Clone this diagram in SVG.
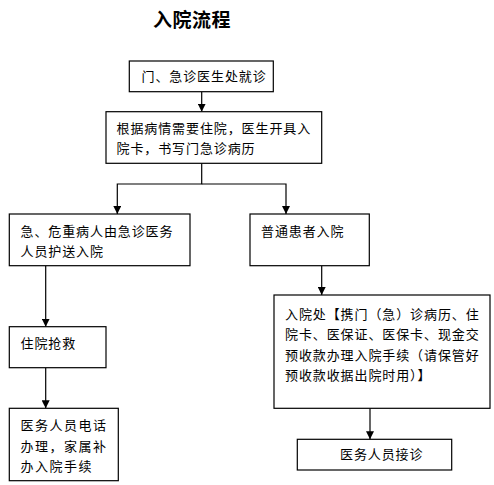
<svg xmlns="http://www.w3.org/2000/svg" width="494" height="485" viewBox="0 0 494 485">
<style>
.box{fill:#fff;stroke:#000;stroke-width:1.2}
.t{font-family:"Liberation Sans","Noto Sans CJK SC",sans-serif;font-size:13px;fill:#000;letter-spacing:0.9px}
.title{font-family:"Liberation Sans","Noto Sans CJK SC",sans-serif;font-size:19px;font-weight:bold;fill:#000;letter-spacing:0.5px}
.c{fill:none;stroke:#000;stroke-width:1.2}
</style>
<defs>
<marker id="ah" viewBox="0 0 10 10" refX="10" refY="5" markerWidth="8" markerHeight="8" markerUnits="userSpaceOnUse" orient="auto">
<path d="M0,0 L10,5 L0,10 Z" fill="#000"/>
</marker>
</defs>
<rect width="494" height="485" fill="#fff"/>
<text class="title" x="192" y="27" text-anchor="middle">入院流程</text>
<g id="connectors">
<path class="c" d="M201.7,92 V111.7" marker-end="url(#ah)"/>
<path class="c" d="M201.7,163.3 V184 H117.3 V214" marker-end="url(#ah)"/>
<path class="c" d="M201.7,184 H286 V214" marker-end="url(#ah)"/>
<path class="c" d="M45.7,265.7 V326.7" marker-end="url(#ah)"/>
<path class="c" d="M45.7,367.7 V408.3" marker-end="url(#ah)"/>
<path class="c" d="M321.7,265.7 V295" marker-end="url(#ah)"/>
<path class="c" d="M370,408.3 V439.3" marker-end="url(#ah)"/>
</g>
<g id="n1">
<rect class="box" x="129.3" y="61" width="144" height="30.7"/>
<text class="t" x="141.5" y="81">门、急诊医生处就诊</text>
</g>
<g id="n2">
<rect class="box" x="106" y="111.7" width="215.7" height="51.6"/>
<text class="t" x="116.5" y="132.5">根据病情需要住院，医生开具入</text>
<text class="t" x="116.5" y="153">院卡，书写门急诊病历</text>
</g>
<g id="n3">
<rect class="box" x="9.3" y="214" width="180.7" height="51.7"/>
<text class="t" x="20.5" y="235.5">急、危重病人由急诊医务</text>
<text class="t" x="20.5" y="255.5">人员护送入院</text>
</g>
<g id="n4">
<rect class="box" x="250" y="214" width="119.3" height="51.7"/>
<text class="t" x="261" y="235.5">普通患者入院</text>
</g>
<g id="n5">
<rect class="box" x="9.3" y="326.7" width="96.7" height="41"/>
<text class="t" x="20.5" y="348">住院抢救</text>
</g>
<g id="n6">
<rect class="box" x="9.3" y="408.3" width="109" height="72.4"/>
<text class="t" x="20.5" y="430" style="letter-spacing:1.5px">医务人员电话</text>
<text class="t" x="20.5" y="450.5" style="letter-spacing:1.5px">办理，家属补</text>
<text class="t" x="20.5" y="470.5" style="letter-spacing:1.5px">办入院手续</text>
</g>
<g id="n7">
<rect class="box" x="274" y="295" width="216" height="113.3"/>
<text class="t" x="285" y="319">入院处【携门（急）诊病历、住</text>
<text class="t" x="285" y="339">院卡、医保证、医保卡、现金交</text>
<text class="t" x="285" y="359.5">预收款办理入院手续（请保管好</text>
<text class="t" x="285" y="379.5">预收款收据出院时用）】</text>
</g>
<g id="n8">
<rect class="box" x="297.3" y="439.3" width="154.4" height="30.7"/>
<text class="t" x="340" y="459">医务人员接诊</text>
</g>
</svg>
